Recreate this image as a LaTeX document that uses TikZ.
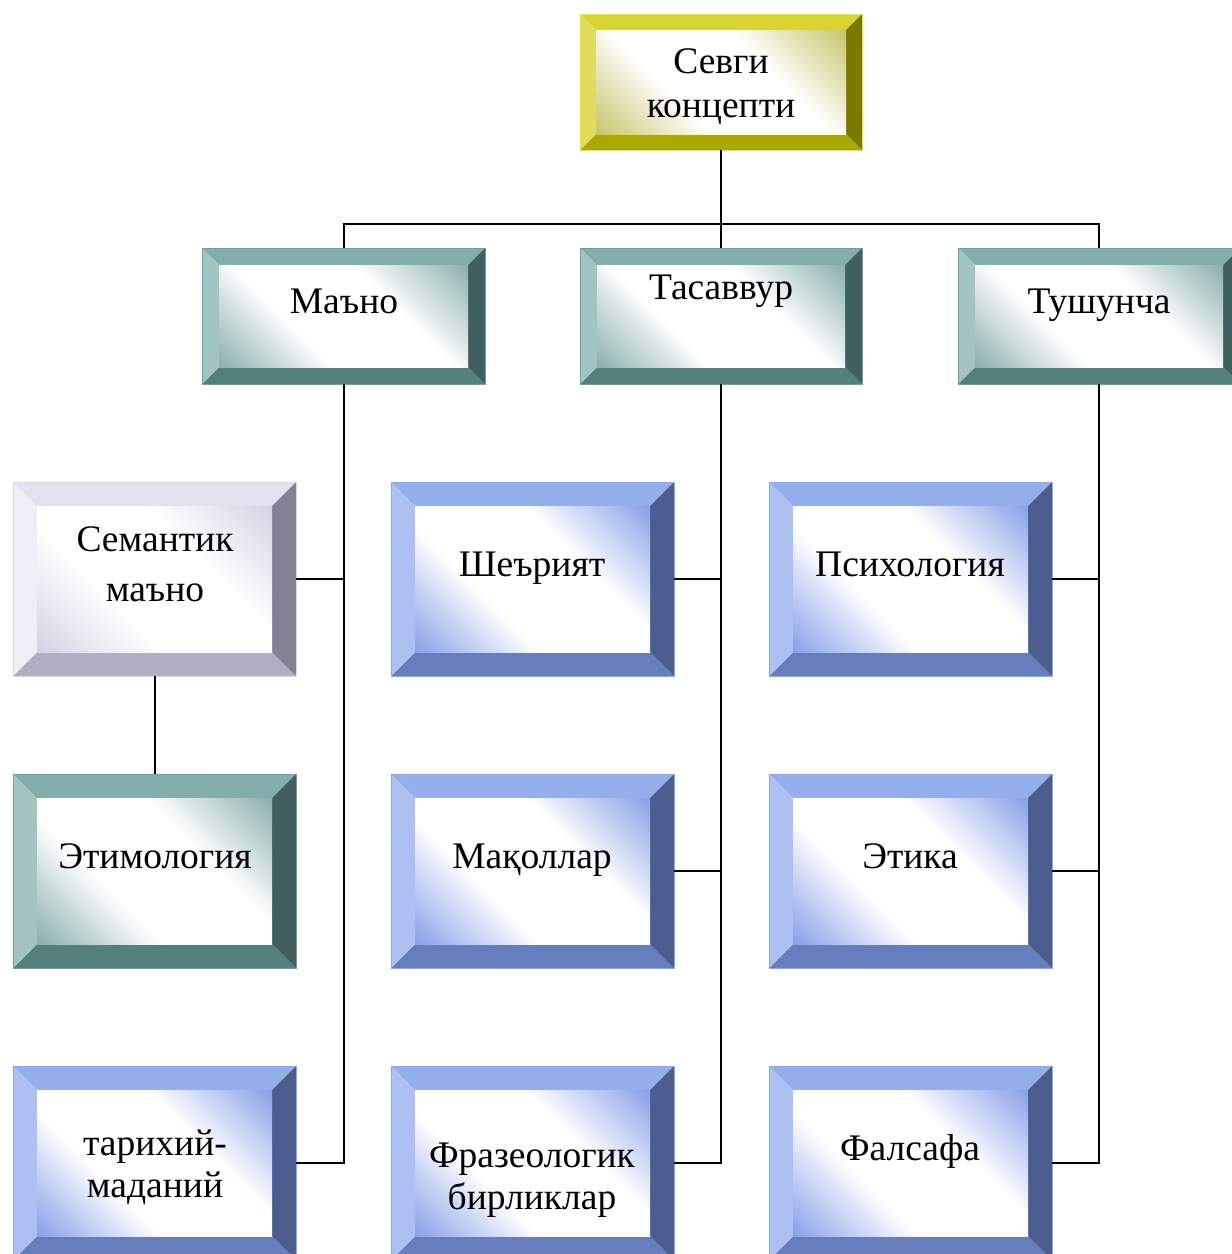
\documentclass[tikz,border=0pt]{standalone}
\usepackage{fontspec}
\setmainfont{Liberation Serif}
% yellow scheme
\definecolor{yT}{HTML}{D8D432}
\definecolor{yL}{HTML}{E1DD5C}
\definecolor{yR}{HTML}{7A7900}
\definecolor{yB}{HTML}{ABA800}
\definecolor{yI}{HTML}{C9C66E}
\definecolor{yE}{HTML}{E4E04A}
% teal scheme
\definecolor{tT}{HTML}{82AEAE}
\definecolor{tL}{HTML}{A2C5C4}
\definecolor{tR}{HTML}{3F605F}
\definecolor{tB}{HTML}{537F7D}
\definecolor{tI}{HTML}{8DB1B0}
\definecolor{tE}{HTML}{6F9E9D}
% blue scheme
\definecolor{bT}{HTML}{95AEEC}
\definecolor{bL}{HTML}{ACC0F1}
\definecolor{bR}{HTML}{4A5D8E}
\definecolor{bB}{HTML}{667EBE}
\definecolor{bI}{HTML}{8AA3E8}
\definecolor{bE}{HTML}{8AA6EC}
% lavender scheme
\definecolor{lT}{HTML}{E2E1EF}
\definecolor{lL}{HTML}{EEEEF6}
\definecolor{lR}{HTML}{838294}
\definecolor{lB}{HTML}{B0AFC4}
\definecolor{lI}{HTML}{D4D3E6}
\definecolor{lE}{HTML}{D8D7E8}
\pgfdeclareverticalshading{yS}{100bp}{color(0bp)=(yI); color(15bp)=(yI); color(38bp)=(white); color(62bp)=(white); color(85bp)=(yI); color(100bp)=(yI)}
\pgfdeclareverticalshading{tS}{100bp}{color(0bp)=(tI); color(15bp)=(tI); color(38bp)=(white); color(62bp)=(white); color(85bp)=(tI); color(100bp)=(tI)}
\pgfdeclareverticalshading{bS}{100bp}{color(0bp)=(bI); color(15bp)=(bI); color(38bp)=(white); color(62bp)=(white); color(85bp)=(bI); color(100bp)=(bI)}
\pgfdeclareverticalshading{lS}{100bp}{color(0bp)=(lI); color(15bp)=(lI); color(38bp)=(white); color(62bp)=(white); color(85bp)=(lI); color(100bp)=(lI)}
\newcommand{\bevbox}[7]{%
  \fill[#7T] (#2,#3) -- (#4,#3) -- ({#4-#6},{#3+#6}) -- ({#2+#6},{#3+#6}) -- cycle;
  \fill[#7B] (#2,#5) -- (#4,#5) -- ({#4-#6},{#5-#6}) -- ({#2+#6},{#5-#6}) -- cycle;
  \fill[#7L] (#2,#3) -- ({#2+#6},{#3+#6}) -- ({#2+#6},{#5-#6}) -- (#2,#5) -- cycle;
  \fill[#7R] (#4,#3) -- ({#4-#6},{#3+#6}) -- ({#4-#6},{#5-#6}) -- (#4,#5) -- cycle;
  \shade[shading=#7S, shading angle=-45] ({#2+#6},{#3+#6}) rectangle ({#4-#6},{#5-#6});
  \draw[#7E, line width=1pt] (#2,#3) rectangle (#4,#5);
  \node[inner sep=0, outer sep=0, minimum width={(#4-#2)*1pt}, minimum height={(#5-#3)*1pt}] (#1) at ({(#2+#4)/2},{(#3+#5)/2}) {};
}
\begin{document}
\begin{tikzpicture}[x=1pt,y=-1pt,
  conn/.style={line width=2pt, black},
  lbl/.style={anchor=base, inner sep=0, font=\fontsize{37.5}{44}\selectfont}]
\clip (0,0) rectangle (1232,1254);
\fill[white] (0,0) rectangle (1232,1254);
% boxes
\bevbox{root}{580}{14}{862}{150}{16}{y}
\bevbox{mano}{202}{248}{485}{384}{17}{t}
\bevbox{tas}{580}{248}{862}{384}{17}{t}
\bevbox{tush}{958}{248}{1240}{384}{17}{t}
\bevbox{sem}{13}{482}{296}{676}{24}{l}
\bevbox{sher}{391}{482}{674}{676}{24}{b}
\bevbox{psix}{769}{482}{1052}{676}{24}{b}
\bevbox{etim}{13}{774}{296}{968}{24}{t}
\bevbox{mak}{391}{774}{674}{968}{24}{b}
\bevbox{etika}{769}{774}{1052}{968}{24}{b}
\bevbox{tarix}{13}{1066}{296}{1260}{24}{b}
\bevbox{fraz}{391}{1066}{674}{1260}{24}{b}
\bevbox{fals}{769}{1066}{1052}{1260}{24}{b}
% labels
\node[lbl] (l1a) at (721,73) {Севги};
\node[lbl] (l1b) at (721,117) {концепти};
\node[lbl] (l2) at (344,313) {Маъно};
\node[lbl] (l3) at (721,299) {Тасаввур};
\node[lbl] (l4) at (1099,313) {Тушунча};
\node[lbl] (l5a) at (155,551) {Семантик};
\node[lbl] (l5b) at (155,601) {маъно};
\node[lbl] (l6) at (532,576) {Шеърият};
\node[lbl] (l7) at (910,576) {Психология};
\node[lbl] (l8) at (155,868) {Этимология};
\node[lbl] (l9) at (532,868) {Мақоллар};
\node[lbl] (l10) at (910,868) {Этика};
\node[lbl] (l11a) at (155,1155) {тарихий-};
\node[lbl] (l11b) at (155,1197) {маданий};
\node[lbl] (l12a) at (532,1167) {Фразеологик};
\node[lbl] (l12b) at (532,1209) {бирликлар};
\node[lbl] (l13) at (910,1160) {Фалсафа};
% connectors
\coordinate (j) at (721,224);
\draw[conn] (root.south) -- (j);
\draw[conn] (mano.north) |- (j);
\draw[conn] (tush.north) |- (j);
\draw[conn] (j) -- (tas.north);
\draw[conn] (mano.south) |- (sem.east);
\draw[conn] (mano.south) |- (tarix.east);
\draw[conn] (sem.south) -- (etim.north);
\draw[conn] (tas.south) |- (sher.east);
\draw[conn] (tas.south) |- (mak.east);
\draw[conn] (tas.south) |- (fraz.east);
\draw[conn] (tush.south) |- (psix.east);
\draw[conn] (tush.south) |- (etika.east);
\draw[conn] (tush.south) |- (fals.east);
\end{tikzpicture}
\end{document}
